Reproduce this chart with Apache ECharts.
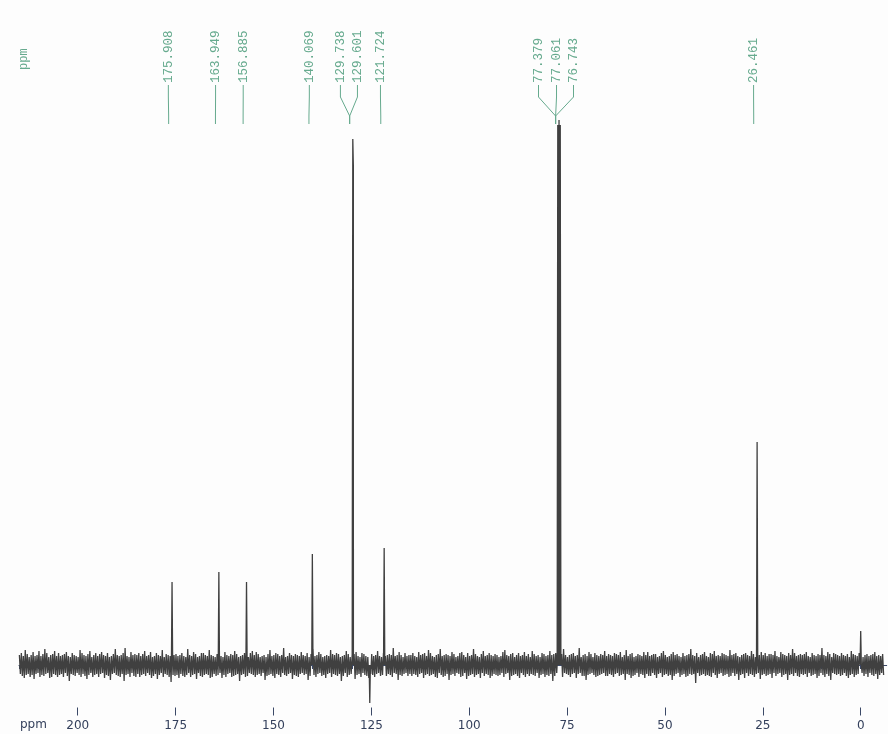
<!DOCTYPE html>
<html>
<head>
<meta charset="utf-8">
<script src="https://cdn.jsdelivr.net/npm/echarts@6/dist/echarts.min.js"></script>
<style>
  html, body { margin: 0; padding: 0; background: #fdfdfd; }
  #c { width: 888px; height: 734px; }
</style>
</head>
<body>
<div id="c"></div>
<script>
// ---- Data (13C NMR spectrum, ppm) ----
const peakShift  = [175.908, 163.949, 156.885, 140.069, 129.738, 129.601, 121.724, 77.379, 77.061, 76.743, 26.461];
const peakHeight = [83, 93, 83, 111, 526, 500, 117, 540, 545, 540, 223];
const peakLabels = ['175.908', '163.949', '156.885', '140.069', '129.738', '129.601', '121.724', '77.379', '77.061', '76.743', '26.461'];
const labelShift = [176.85, 164.79, 157.73, 140.84, 132.9, 128.55, 122.67, 82.3, 77.7, 73.36, 27.36];
const labelGroup = [0, 1, 2, 3, 4, 4, 5, 6, 6, 6, 7];
const extraShift  = [125.4, 0.0];
const extraHeight = [-38, 34];
const noiseStart = 214.9;
const noiseStep = 0.5;
// baseline noise maxima, at noiseStart - i*noiseStep
const noiseHi = [
 10,12,9,15,11,8,10,13,9,10,14,9,11,16,12,8,10,11,14,9,
 12,9,10,11,13,9,8,12,10,9,8,15,12,10,9,11,14,8,10,12,
 9,11,13,10,9,12,8,9,11,16,10,9,10,12,17,9,8,13,10,11,
 10,12,9,11,14,9,10,13,8,9,12,10,9,15,8,11,10,9,13,10,
 11,9,10,12,9,8,16,10,9,13,11,8,9,12,12,10,9,15,10,9,
 8,11,12,9,8,13,10,9,11,10,14,11,8,9,10,12,9,8,12,14,
 10,13,11,8,9,10,8,11,15,9,10,12,11,9,10,17,8,9,12,10,
 9,11,10,9,13,10,9,12,8,11,16,9,10,13,11,8,9,10,9,15,
 11,10,12,11,8,9,10,14,11,8,10,11,13,9,8,12,11,9,8,13,
 11,9,10,14,9,8,12,9,10,11,10,17,9,10,13,10,8,12,9,10,
 10,12,9,8,13,10,11,12,9,15,12,9,8,10,11,16,9,10,11,10,
 9,13,11,8,9,12,13,10,8,12,9,10,16,11,9,8,11,14,9,10,
 12,10,9,11,10,8,9,13,15,10,9,11,12,8,10,12,9,10,13,9,
 11,8,14,11,9,10,8,12,11,9,10,14,10,11,12,9,8,11,16,10,
 8,10,11,12,9,10,17,8,10,11,9,13,11,8,12,10,9,11,10,14,
 9,11,10,9,12,11,10,13,8,10,15,9,11,12,8,9,11,10,9,13,
 10,13,9,10,11,11,8,9,12,14,10,8,9,11,13,10,11,9,8,12,
 9,10,11,16,10,9,12,8,10,11,13,9,8,12,11,14,9,10,9,12,
 11,10,9,15,10,11,12,9,8,10,11,12,10,9,14,11,8,9,10,13,
 10,12,9,11,11,10,14,9,8,13,11,10,9,12,10,16,12,9,10,11,
 10,11,13,9,8,12,10,9,11,10,17,10,9,13,11,8,12,11,10,9,
 12,10,9,11,8,14,11,10,9,12,13,8,10,11,9,10,11,13,9,10,
 9,11
];
// baseline noise minima, at noiseStart - noiseStep/2 - i*noiseStep
const noiseLo = [
 -9,-11,-13,-10,-9,-12,-10,-14,-9,-8,-12,-10,-11,-9,-8,-13,-12,-9,-10,-12,
 -10,-9,-12,-8,-11,-16,-9,-10,-11,-8,-10,-12,-9,-11,-14,-10,-8,-12,-10,-9,
 -12,-9,-8,-13,-10,-11,-15,-9,-8,-10,-11,-12,-9,-16,-10,-9,-12,-8,-11,-12,
 -9,-12,-10,-9,-11,-8,-10,-13,-11,-9,-14,-10,-8,-12,-9,-10,-12,-17,-10,-11,
 -10,-13,-9,-11,-12,-10,-8,-12,-10,-9,-14,-8,-11,-12,-10,-9,-10,-13,-12,-9,
 -11,-10,-8,-13,-10,-12,-9,-8,-12,-11,-10,-9,-16,-10,-9,-12,-11,-8,-9,-10,
 -12,-10,-9,-11,-8,-15,-11,-10,-9,-11,-13,-9,-10,-12,-8,-10,-11,-9,-8,-14,
 -10,-11,-12,-9,-8,-10,-9,-15,-11,-8,-10,-12,-9,-8,-11,-10,-13,-9,-8,-12,
 -9,-10,-11,-9,-16,-11,-8,-12,-10,-9,-11,-14,-10,-9,-12,-8,-10,-11,-13,-9,
 -10,-12,-9,-8,-11,-10,-13,-11,-9,-10,-12,-8,-9,-15,-10,-11,-9,-8,-11,-9,
 -11,-9,-10,-12,-9,-8,-13,-10,-9,-11,-10,-9,-12,-13,-8,-10,-12,-11,-9,-15,
 -10,-9,-11,-8,-9,-12,-11,-8,-14,-11,-10,-9,-12,-10,-9,-13,-8,-11,-9,-10,
 -13,-11,-9,-10,-11,-10,-8,-12,-9,-8,-15,-11,-10,-9,-11,-13,-8,-10,-12,-9,
 -11,-9,-10,-11,-8,-13,-10,-9,-12,-10,-11,-9,-16,-11,-8,-9,-10,-12,-8,-9,
 -10,-12,-9,-8,-13,-9,-8,-11,-11,-15,-10,-9,-8,-10,-12,-11,-10,-9,-8,-11,
 -11,-9,-10,-12,-9,-8,-11,-10,-9,-15,-9,-10,-13,-11,-10,-8,-12,-9,-10,-13,
 -9,-11,-11,-8,-10,-13,-9,-8,-12,-10,-9,-11,-10,-15,-11,-9,-8,-12,-10,-9,
 -12,-11,-9,-10,-9,-18,-8,-11,-10,-9,-11,-10,-11,-12,-8,-10,-13,-9,-8,-11,
 -10,-9,-12,-11,-8,-11,-9,-15,-10,-9,-13,-8,-11,-9,-10,-12,-9,-8,-14,-10,
 -9,-11,-10,-9,-13,-8,-11,-9,-8,-12,-10,-9,-15,-10,-9,-11,-8,-11,-12,-9,
 -10,-9,-12,-8,-11,-10,-9,-13,-11,-8,-10,-12,-9,-11,-15,-8,-9,-10,-9,-11,
 -10,-8,-11,-13,-10,-9,-12,-10,-9,-11,-8,-11,-9,-12,-8,-10,-11,-9,-14,-10,
 -8,-10
];
const majorTicks = [200, 175, 150, 125, 100, 75, 50, 25, 0];
const minorTicks = [215,210,205,200,195,190,185,180,175,170,165,160,155,150,145,140,135,130,125,120,115,110,105,100,95,90,85,80,75,70,65,60,55,50,45,40,35,30,25,20,15,10,5,0,-5];

// ---- Build spectrum trace ----
const pts = noiseHi.map((v, i) => [noiseStart - i * noiseStep, v])
  .concat(noiseLo.map((v, i) => [noiseStart - noiseStep / 2 - i * noiseStep, v]));
const allPeaks = peakShift.map((p, i) => [p, peakHeight[i]])
  .concat(extraShift.map((p, i) => [p, extraHeight[i]]));
const hw = 0.16;
let trace = pts.filter(pt => !allPeaks.some(pk => Math.abs(pk[0] - pt[0]) < hw));
allPeaks.forEach(pk => {
  trace.push([pk[0] + hw, 0]);
  trace.push([pk[0], pk[1]]);
  trace.push([pk[0] - hw, 0]);
});
trace.sort((a, b) => b[0] - a[0]);
trace = trace.filter((pt, i) => {
  if (pt[1] !== 0) return true;
  const prev = trace[i - 1], next = trace[i + 1];
  return !(prev && next && Math.abs(prev[1]) > 200 && Math.abs(next[1]) > 200 && (prev[0] - next[0]) < 0.5);
});

const groupAnchor = {};
labelGroup.forEach((g, i) => { (groupAnchor[g] = groupAnchor[g] || []).push(peakShift[i]); });
const labelData = labelShift.map((s, i) => {
  const arr = groupAnchor[labelGroup[i]];
  const mean = arr.reduce((a, b) => a + b, 0) / arr.length;
  return [s, mean];
});

const GREEN = '#66aa8e';
const AXIS = '#3b4867';

const chart = echarts.init(document.getElementById('c'), null, { renderer: 'canvas' });
chart.setOption({
  backgroundColor: '#fdfdfd',
  animation: false,
  grid: { left: 19, right: 1.3, top: 0, bottom: 26.5 },
  xAxis: [
    {
      type: 'value', min: -6.64, max: 215, inverse: true, position: 'bottom',
      axisLine: { show: true, lineStyle: { color: AXIS, width: 1 } },
      axisTick: { show: true, customValues: minorTicks, length: 4, inside: false, lineStyle: { color: AXIS, width: 1 } },
      axisLabel: { show: false },
      splitLine: { show: false }
    },
    {
      type: 'value', min: -6.64, max: 215, inverse: true, position: 'bottom',
      axisLine: { show: false },
      axisTick: { show: true, customValues: majorTicks, length: 8, inside: false, lineStyle: { color: AXIS, width: 1 } },
      axisLabel: {
        show: true, customValues: majorTicks, margin: 12,
        color: '#34405c', fontSize: 12, fontFamily: 'DejaVu Sans',
        formatter: v => String(v)
      },
      splitLine: { show: false }
    }
  ],
  yAxis: { type: 'value', min: -42.5, max: 665, show: false },
  graphic: [
    { type: 'text', left: 20, top: 719, style: { text: 'ppm', fill: '#34405c', font: '12px DejaVu Sans' } },
    { type: 'text', x: 24, y: 70, rotation: Math.PI / 2,
      style: { text: 'ppm', fill: GREEN, font: '12px "Liberation Mono"', align: 'left', verticalAlign: 'middle' } }
  ],
  series: [
    {
      type: 'line', xAxisIndex: 0, data: trace, symbol: 'none', showSymbol: false,
      sampling: null, lineStyle: { color: '#404040', width: 1.3 }, silent: true, animation: false
    },
    {
      type: 'custom', xAxisIndex: 0, data: labelData, silent: true,
      renderItem: function (params, api) {
        const xl = api.coord([api.value(0), 0])[0];
        const xa = api.coord([api.value(1), 0])[0] - 3.4;
        const txt = peakLabels[params.dataIndex];
        return {
          type: 'group',
          children: [
            { type: 'polyline', shape: { points: [[xl, 85], [xl, 97], [xa, 116], [xa, 124]] },
              style: { stroke: GREEN, lineWidth: 1, fill: null } },
            { type: 'text', x: xl, y: 83, rotation: Math.PI / 2,
              style: { text: txt, fill: GREEN, font: '12.5px "Liberation Mono"', align: 'left', verticalAlign: 'middle' } }
          ]
        };
      }
    }
  ]
});
</script>
</body>
</html>
